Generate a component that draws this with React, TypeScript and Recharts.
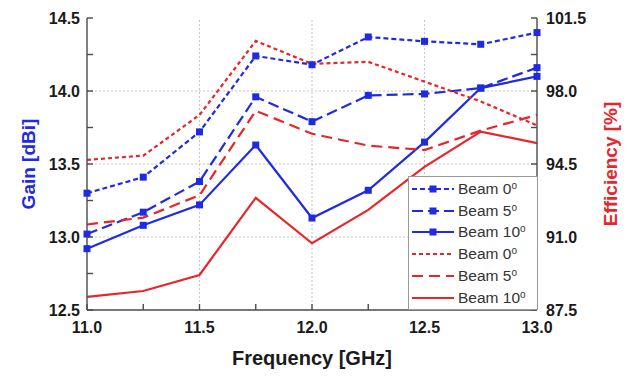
import { ComposedChart, Label, Legend, Line, ReferenceLine, XAxis, YAxis } from "recharts";

const freqs = [11.0, 11.25, 11.5, 11.75, 12.0, 12.25, 12.5, 12.75, 13.0];
const gainBeam0 = [13.3, 13.41, 13.72, 14.24, 14.18, 14.37, 14.34, 14.32, 14.4];
const gainBeam5 = [13.02, 13.17, 13.38, 13.96, 13.79, 13.97, 13.98, 14.02, 14.16];
const gainBeam10 = [12.92, 13.08, 13.22, 13.63, 13.13, 13.32, 13.65, 14.02, 14.1];
const effBeam0 = [94.7, 94.9, 96.85, 100.4, 99.3, 99.4, 98.45, 97.5, 96.35];
const effBeam5 = [91.6, 91.93, 93.0, 97.05, 95.95, 95.38, 95.17, 96.1, 96.85];
const effBeam10 = [88.13, 88.41, 89.18, 92.88, 90.7, 92.3, 94.36, 96.05, 95.5];

const freqTicks = [11.0, 11.25, 11.5, 11.75, 12.0, 12.25, 12.5, 12.75, 13.0];
const gainTicks = [12.5, 12.75, 13.0, 13.25, 13.5, 13.75, 14.0, 14.25, 14.5];
const effTicks = [87.5, 89.25, 91.0, 92.75, 94.5, 96.25, 98.0, 99.75, 101.5];
const freqGrid = [11.5, 12.0, 12.5];
const gainGrid = [13.0, 13.5, 14.0];

const BLUE = "#1f2be0";
const RED = "#e5262b";
const AXIS = "#4a4a4a";
const FONT = "'Liberation Sans', Arial, sans-serif";
const TICK_LEN = 6;

const series = [
  { key: "g0", label: "0", axis: "gain", color: BLUE, dash: "5 3", marker: true, values: gainBeam0 },
  { key: "g5", label: "5", axis: "gain", color: BLUE, dash: "11 5", marker: true, values: gainBeam5 },
  { key: "g10", label: "10", axis: "gain", color: BLUE, dash: undefined, marker: true, values: gainBeam10 },
  { key: "e0", label: "0", axis: "eff", color: RED, dash: "4 3", marker: false, values: effBeam0 },
  { key: "e5", label: "5", axis: "eff", color: RED, dash: "11 6", marker: false, values: effBeam5 },
  { key: "e10", label: "10", axis: "eff", color: RED, dash: undefined, marker: false, values: effBeam10 },
];

const data = freqs.map((f, i) => {
  const row: Record<string, number> = { f };
  series.forEach((s) => (row[s.key] = s.values[i]));
  return row;
});

// ticks point into the plot; labels only on the major values
function makeTick(side: "bottom" | "top" | "left" | "right", margin: number, majorEvery: number, base: number) {
  return function Tick(props: any) {
    const { x, y, payload } = props;
    const steps = (payload.value - base) / majorEvery;
    const major = Math.abs(steps - Math.round(steps)) < 1e-6;
    let line: [number, number, number, number];
    let anchor: "start" | "middle" | "end" = "middle";
    if (side === "bottom") {
      line = [x, y - margin, x, y - margin - TICK_LEN];
    } else if (side === "top") {
      line = [x, y + margin, x, y + margin + TICK_LEN];
    } else if (side === "left") {
      line = [x + margin, y, x + margin + TICK_LEN, y];
      anchor = "end";
    } else {
      line = [x - margin, y, x - margin - TICK_LEN, y];
      anchor = "start";
    }
    return (
      <g>
        <line x1={line[0]} y1={line[1]} x2={line[2]} y2={line[3]} stroke={AXIS} strokeWidth={1.4} />
        {major && side !== "top" && (
          <text x={x} y={y} dy="0.36em" textAnchor={anchor} fill="#1a1a1a" fontSize={16} fontWeight={700} fontFamily={FONT}>
            {payload.value.toFixed(1)}
          </text>
        )}
      </g>
    );
  };
}

const XTick = makeTick("bottom", 17, 0.5, 11);
const TopTick = makeTick("top", 0, 0.5, 11);
const GainTick = makeTick("left", 7, 0.5, 12.5);
const EffTick = makeTick("right", 9, 3.5, 87.5);

function SquareDot(props: any) {
  const { cx, cy, stroke, index } = props;
  if (cx == null || cy == null) return <g key={index} />;
  return <rect key={index} x={cx - 3.5} y={cy - 3.5} width={7} height={7} fill={stroke} />;
}

function VerticalTitle({ viewBox, text, color, dx }: { viewBox?: any; text: string; color: string; dx: number }) {
  if (!viewBox) return null;
  const cx = viewBox.x + dx;
  const cy = viewBox.y + viewBox.height / 2;
  return (
    <text x={cx} y={cy} dy="0.36em" transform={`rotate(-90 ${cx} ${cy})`} textAnchor="middle" fill={color} fontSize={19} fontWeight={700} fontFamily={FONT}>
      {text}
    </text>
  );
}

function LegendBox() {
  return (
    <div
      style={{
        boxSizing: "border-box",
        width: 130,
        height: 134,
        border: "1px solid #999",
        background: "#fff",
        padding: "1px 0 0 2px",
        fontFamily: FONT,
        fontSize: 15.5,
        color: "#333",
      }}
    >
      {series.map((s) => (
        <div key={s.key} style={{ display: "flex", alignItems: "center", height: 21.8 }}>
          <svg width={44} height={10} style={{ marginRight: 3 }}>
            <line x1={1} y1={5} x2={43} y2={5} stroke={s.color} strokeWidth={2.2} strokeDasharray={s.dash} />
            {s.marker && <rect x={18.5} y={1.5} width={7} height={7} fill={s.color} />}
          </svg>
          <span>
            Beam {s.label}
            <sup style={{ fontSize: 10, verticalAlign: "5px" }}>o</sup>
          </span>
        </div>
      ))}
    </div>
  );
}

export default function App() {
  return (
    <div style={{ position: "absolute", left: 0, top: 0, background: "#fff" }}>
      <ComposedChart width={627} height={377} data={data} margin={{ top: 18, right: 0, bottom: 0, left: 0 }}>
        {freqGrid.map((v) => (
          <ReferenceLine key={"vx" + v} x={v} yAxisId="gain" stroke="#c4c4c4" strokeDasharray="2 2" strokeWidth={1} />
        ))}
        {gainGrid.map((v) => (
          <ReferenceLine key={"hy" + v} y={v} yAxisId="gain" stroke="#c4c4c4" strokeDasharray="2 2" strokeWidth={1} />
        ))}
        <XAxis
          dataKey="f"
          type="number"
          domain={[11, 13]}
          ticks={freqTicks}
          height={67}
          tickSize={0}
          tickMargin={17}
          tickLine={false}
          stroke={AXIS}
          strokeWidth={1.4}
          tick={<XTick />}
          interval={0}
        >
          <Label
            content={(p: any) => (
              <text
                x={p.viewBox.x + p.viewBox.width / 2}
                y={p.viewBox.y + 48}
                dy="0.36em"
                textAnchor="middle"
                fill="#1a1a1a"
                fontSize={20}
                fontWeight={700}
                fontFamily={FONT}
              >
                Frequency [GHz]
              </text>
            )}
          />
        </XAxis>
        <XAxis
          xAxisId="top"
          orientation="top"
          dataKey="f"
          type="number"
          domain={[11, 13]}
          ticks={freqTicks}
          height={0}
          tickSize={0}
          tickMargin={0}
          tickLine={false}
          stroke={AXIS}
          strokeWidth={1.4}
          tick={<TopTick />}
          interval={0}
        />
        <YAxis
          yAxisId="gain"
          type="number"
          domain={[12.5, 14.5]}
          ticks={gainTicks}
          width={87}
          tickSize={0}
          tickMargin={7}
          tickLine={false}
          stroke={AXIS}
          strokeWidth={1.4}
          tick={<GainTick />}
          interval={0}
        >
          <Label content={(p: any) => <VerticalTitle viewBox={p.viewBox} text="Gain [dBi]" color={BLUE} dx={28} />} />
        </YAxis>
        <YAxis
          yAxisId="eff"
          orientation="right"
          type="number"
          domain={[87.5, 101.5]}
          ticks={effTicks}
          width={90}
          tickSize={0}
          tickMargin={9}
          tickLine={false}
          stroke={AXIS}
          strokeWidth={1.4}
          tick={<EffTick />}
          interval={0}
        >
          <Label content={(p: any) => <VerticalTitle viewBox={p.viewBox} text="Efficiency [%]" color={RED} dx={73} />} />
        </YAxis>
        {series.map((s) => (
          <Line
            key={s.key}
            yAxisId={s.axis}
            dataKey={s.key}
            type="linear"
            stroke={s.color}
            strokeWidth={2.2}
            strokeDasharray={s.dash}
            dot={s.marker ? <SquareDot /> : false}
            activeDot={false}
            isAnimationActive={false}
          />
        ))}
        <Legend
          layout="vertical"
          align="center"
          verticalAlign="middle"
          content={() => <LegendBox />}
          wrapperStyle={{ left: 408, top: 176, width: 130, height: 134 }}
        />
      </ComposedChart>
    </div>
  );
}
